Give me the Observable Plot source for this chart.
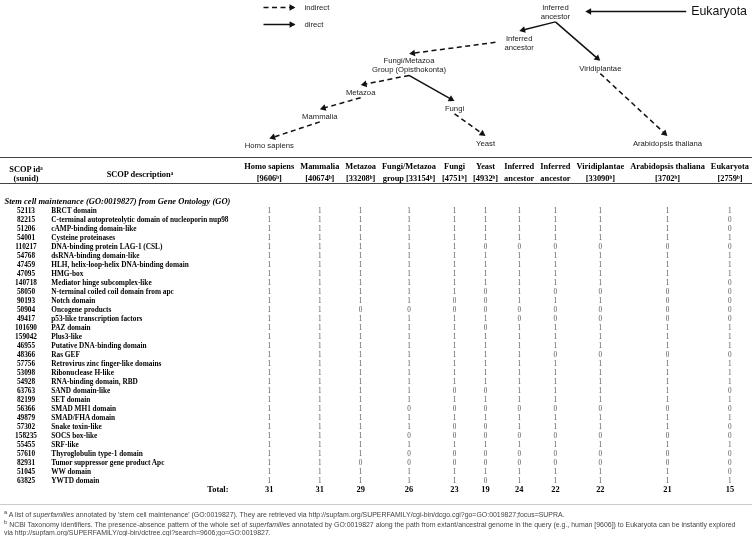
<!DOCTYPE html>
<html><head><meta charset="utf-8">
<script src="https://cdn.jsdelivr.net/npm/d3@7"></script>
<script src="https://cdn.jsdelivr.net/npm/@observablehq/plot@0.6"></script>
<style>
body{margin:0;background:#fff;}
#wrap{position:relative;width:752px;height:536px;overflow:hidden;background:#fff;filter:grayscale(1);}
#legend{position:absolute;left:256px;top:0;}
#head{border-top:1.5px solid #444;border-bottom:1px solid #444;}
#tbody{border-bottom:1px solid #ccc;}
.fn{font-family:"Liberation Sans",Arial,sans-serif;font-size:6.95px;color:#444;line-height:7.6px;padding:4px 0 0 4px;margin:0;white-space:nowrap;}
svg{display:block;}
</style></head><body>
<div id="wrap"></div>
<script>
// ---------------- DATA ----------------
const columns = ["Homo sapiens","Mammalia","Metazoa","Fungi/Metazoa group","Fungi","Yeast","Inferred ancestor A","Inferred ancestor B","Viridiplantae","Arabidopsis thaliana","Eukaryota"];
const headerLine1 = ["Homo sapiens","Mammalia","Metazoa","Fungi/Metazoa","Fungi","Yeast","Inferred","Inferred","Viridiplantae","Arabidopsis thaliana","Eukaryota"];
const headerLine2 = ["[9606ᵇ]","[40674ᵇ]","[33208ᵇ]","group [33154ᵇ]","[4751ᵇ]","[4932ᵇ]","ancestor","ancestor","[33090ᵇ]","[3702ᵇ]","[2759ᵇ]"];
const idHeader = ["SCOP idᵃ","(sunid)"];
const descHeader = "SCOP descriptionᵃ";
const sectionTitle = "Stem cell maintenance (GO:0019827) from Gene Ontology (GO)";
const sunids = [52113,82215,51206,54001,110217,54768,47459,47095,140718,58050,90193,50904,49417,101690,159042,46955,48366,57756,53098,54928,63763,82199,56366,49879,57302,158235,55455,57610,82931,51045,63825];
const descriptions = ["BRCT domain","C-terminal autoproteolytic domain of nucleoporin nup98","cAMP-binding domain-like","Cysteine proteinases","DNA-binding protein LAG-1 (CSL)","dsRNA-binding domain-like","HLH, helix-loop-helix DNA-binding domain","HMG-box","Mediator hinge subcomplex-like","N-terminal coiled coil domain from apc","Notch domain","Oncogene products","p53-like transcription factors","PAZ domain","Plus3-like","Putative DNA-binding domain","Ras GEF","Retrovirus zinc finger-like domains","Ribonuclease H-like","RNA-binding domain, RBD","SAND domain-like","SET domain","SMAD MH1 domain","SMAD/FHA domain","Snake toxin-like","SOCS box-like","SRF-like","Thyroglobulin type-1 domain","Tumor suppressor gene product Apc","WW domain","YWTD domain"];
const presence = [
[1,1,1,1,1,1,1,1,1,1,1],
[1,1,1,1,1,1,1,1,1,1,0],
[1,1,1,1,1,1,1,1,1,1,0],
[1,1,1,1,1,1,1,1,1,1,1],
[1,1,1,1,1,0,0,0,0,0,0],
[1,1,1,1,1,1,1,1,1,1,1],
[1,1,1,1,1,1,1,1,1,1,1],
[1,1,1,1,1,1,1,1,1,1,1],
[1,1,1,1,1,1,1,1,1,1,0],
[1,1,1,1,1,0,1,0,0,0,0],
[1,1,1,1,0,0,1,1,1,0,0],
[1,1,0,0,0,0,0,0,0,0,0],
[1,1,1,1,1,1,0,0,0,0,0],
[1,1,1,1,1,0,1,1,1,1,1],
[1,1,1,1,1,1,1,1,1,1,1],
[1,1,1,1,1,1,1,1,1,1,1],
[1,1,1,1,1,1,1,0,0,0,0],
[1,1,1,1,1,1,1,1,1,1,1],
[1,1,1,1,1,1,1,1,1,1,1],
[1,1,1,1,1,1,1,1,1,1,1],
[1,1,1,1,0,0,1,1,1,1,0],
[1,1,1,1,1,1,1,1,1,1,1],
[1,1,1,0,0,0,0,0,0,0,0],
[1,1,1,1,1,1,1,1,1,1,1],
[1,1,1,1,0,0,1,1,1,1,0],
[1,1,1,0,0,0,0,0,0,0,0],
[1,1,1,1,1,1,1,1,1,1,1],
[1,1,1,0,0,0,0,0,0,0,0],
[1,1,0,0,0,0,0,0,0,0,0],
[1,1,1,1,1,1,1,1,1,1,0],
[1,1,1,1,1,0,1,1,1,1,1]
];
// tree
const nodeIds = ["euk","ia1","ia2","viri","fm","meta","fungi","mamm","homo","yeast","arab"];
const nodeLabels = ["Eukaryota","Inferred\nancestor","Inferred\nancestor","Viridiplantae","Fungi/Metazoa\nGroup (Opisthokonta)","Metazoa","Fungi","Mammalia","Homo sapiens","Yeast","Arabidopsis thaliana"];
const nodeColumn = [10,7,6,8,3,2,4,1,0,5,9];
const nodeLevel = [0,0,1.15,2.1,2,3,3.6,3.9,5,4.9,4.9];
const edgeFrom = ["euk","ia1","ia1","ia2","fm","fm","meta","mamm","fungi","viri"];
const edgeTo   = ["ia1","ia2","viri","fm","meta","fungi","mamm","homo","yeast","arab"];
const edgeKind = ["direct","direct","direct","indirect","indirect","direct","indirect","indirect","indirect","indirect"];
const legendKinds = ["indirect","direct"];

// ---------------- LAYOUT ----------------
const W = 752;
const SERIF = '"Liberation Serif","Times New Roman",serif';
const SANS = '"Liberation Sans",Arial,sans-serif';
const HEAD_FS = 8.4, ROW_FS = 7.3, VAL_FS = 7.2, TREE_FS = 7.7, ROOT_FS = 12.4;
const DASH = "5,3.5";
const ctx = document.createElement("canvas").getContext("2d");
function tw(t, font){ ctx.font = font; return ctx.measureText(t).width; }
const headFont = `bold ${HEAD_FS}px ${SERIF}`;
const rowFont = `bold ${ROW_FS}px ${SERIF}`;
const n = columns.length;
const colW = columns.map((c,i)=>Math.max(tw(headerLine1[i],headFont), tw(headerLine2[i],headFont)));
const GAP = 6, RIGHT = 748.5;
const colX = [], colRight = [];
{ let r = RIGHT; for (let i=n-1;i>=0;i--){ colRight[i]=r; colX[i]=r-colW[i]/2; r -= colW[i]+GAP; } }
const idLeft = 8.6;
const idW = Math.max(...idHeader.map(t=>tw(t,headFont)));
const idX = idLeft + idW/2;
const descLeft = idLeft + idW + 8.3;
const descRight = descLeft + Math.max(...descriptions.map(t=>tw(t,rowFont)));

const xScale = {domain:[0,W], range:[0,W], axis:null};
const wrap = document.getElementById("wrap");

// ---------------- TREE ----------------
const yDom = [0,5], yRng = [11,145];
const ys = d3.scaleLinear(yDom, yRng);
const treeFont = `${TREE_FS}px ${SANS}`;
const nodes = {};
nodeIds.forEach((id,i)=>{
  const lines = nodeLabels[i].split("\n");
  const root = i===0;
  const w = Math.max(...lines.map(l=>tw(l, root ? `${ROOT_FS}px ${SANS}` : treeFont)));
  const x = root ? colRight[nodeColumn[i]] - 2 : colX[nodeColumn[i]];
  nodes[id] = {id, label:nodeLabels[i], x, level:nodeLevel[i], w,
    left: root ? x - w : x - w/2, right: root ? x : x + w/2,
    h: (root ? ROOT_FS*0.5 : TREE_FS*0.5) + (lines.length-1)*TREE_FS*1.17/2, root};
});
const edges = edgeFrom.map((f,i)=>{
  const a = nodes[f], b = nodes[edgeTo[i]];
  const ay = ys(a.level), by = ys(b.level);
  let s, t;
  if (a.level === b.level) { s=[a.left-5, ay]; t=[b.right+15, by]; }
  else if (Math.abs(b.x-a.x) > 3*(by-ay)) { s=[a.left-9, ay]; t=[b.x, by-b.h-3]; }
  else { s=[a.x, ay+a.h+2]; t=[b.x, by-b.h-3]; }
  const dx=t[0]-s[0], dy=t[1]-s[1], L=Math.hypot(dx,dy), ux=dx/L, uy=dy/L;
  return {kind:edgeKind[i], x1:s[0], y1:ys.invert(s[1]), x2:t[0]-5*ux, y2:ys.invert(t[1]-5*uy),
    cx:t[0]-4*ux, cy:ys.invert(t[1]-4*uy), angle: Math.atan2(uy,ux)*180/Math.PI+90};
});
const nodeList = Object.values(nodes);
const tree = Plot.plot({
  width:W, height:157, margin:0, x:xScale, y:{domain:yDom, range:yRng, axis:null},
  marks:[
    Plot.link(edges.filter(e=>e.kind==="indirect"), {x1:"x1",y1:"y1",x2:"x2",y2:"y2", stroke:"#111", strokeWidth:1.5, strokeDasharray:DASH}),
    Plot.link(edges.filter(e=>e.kind==="direct"), {x1:"x1",y1:"y1",x2:"x2",y2:"y2", stroke:"#111", strokeWidth:1.5}),
    Plot.dot(edges, {x:"cx", y:"cy", symbol:"triangle", r:2.5, rotate:"angle", fill:"#111", stroke:null}),
    Plot.text(nodeList.filter(d=>!d.root), {x:"x", y:"level", text:"label", fontFamily:SANS, fontSize:TREE_FS, lineHeight:1.17, fill:"#222"}),
    Plot.text(nodeList.filter(d=>d.root), {x:"x", y:"level", text:"label", fontFamily:SANS, fontSize:ROOT_FS, textAnchor:"end", fill:"#111"})
  ]
});
wrap.appendChild(tree);

// legend
const legend = Plot.plot({
  width:90, height:32, margin:0,
  x:{domain:[0,1], range:[7,38], axis:null},
  y:{type:"point", domain:legendKinds, range:[7,24], padding:0, axis:null},
  marks:[
    Plot.link(legendKinds.filter(k=>k==="indirect"), {x1:()=>0, x2:()=>1, y1:d=>d, y2:d=>d, stroke:"#111", strokeWidth:1.5, strokeDasharray:DASH}),
    Plot.link(legendKinds.filter(k=>k==="direct"), {x1:()=>0, x2:()=>1, y1:d=>d, y2:d=>d, stroke:"#111", strokeWidth:1.5}),
    Plot.dot(legendKinds, {x:()=>1, y:d=>d, symbol:"triangle", r:2.5, rotate:90, dx:-3, fill:"#111", stroke:null}),
    Plot.text(legendKinds, {x:()=>1, y:d=>d, text:d=>d, dx:10, textAnchor:"start", fontFamily:SANS, fontSize:TREE_FS, fill:"#222"})
  ]
});
const lg = document.createElement("div"); lg.id="legend"; lg.appendChild(legend); wrap.appendChild(lg);

// ---------------- HEADER ----------------
const headerCells = [];
columns.forEach((c,i)=>{ headerCells.push({x:colX[i], line:1, text:headerLine1[i]}); headerCells.push({x:colX[i], line:2, text:headerLine2[i]}); });
headerCells.push({x:idX, line:1.25, text:idHeader[0]}, {x:idX, line:2, text:idHeader[1]});
headerCells.push({x:(descLeft+descRight)/2, line:1.65, text:descHeader});
const head = Plot.plot({
  width:W, height:25, margin:0, x:xScale, y:{domain:[1,2], range:[7.5,19.5], axis:null},
  marks:[ Plot.text(headerCells, {x:"x", y:"line", text:"text", fontFamily:SERIF, fontWeight:"bold", fontSize:HEAD_FS, fill:"#000"}) ]
});
const hd = document.createElement("div"); hd.id="head"; hd.appendChild(head); wrap.appendChild(hd);

// ---------------- BODY ----------------
const rowKeys = ["section", ...sunids.map(String), "total"];
const rows = sunids.map((id,i)=>({key:String(id), id:String(id), desc:descriptions[i]}));
const cells = [];
sunids.forEach((id,i)=>presence[i].forEach((v,j)=>cells.push({key:String(id), x:colX[j], v:String(v)})));
const totals = columns.map((c,j)=>({x:colX[j], t:String(d3.sum(presence, r=>r[j]))}));
const body = Plot.plot({
  width:W, height:320, margin:0, x:xScale, y:{type:"point", domain:rowKeys, range:[7,314.5], padding:0, axis:null},
  marks:[
    Plot.text([sectionTitle], {frameAnchor:"left", y:()=>"section", text:d=>d, dx:4, textAnchor:"start", fontFamily:SERIF, fontWeight:"bold", fontStyle:"italic", fontSize:8.5, fill:"#000"}),
    Plot.text(rows, {x:()=>idX, y:"key", text:"id", fontFamily:SERIF, fontWeight:"bold", fontSize:ROW_FS, fill:"#000"}),
    Plot.text(rows, {x:()=>descLeft, y:"key", text:"desc", textAnchor:"start", fontFamily:SERIF, fontWeight:"bold", fontSize:ROW_FS, fill:"#000"}),
    Plot.text(cells, {x:"x", y:"key", text:"v", fontFamily:SERIF, fontSize:VAL_FS, fill:"#555"}),
    Plot.text(["Total:"], {x:()=>descRight, y:()=>"total", text:d=>d, textAnchor:"end", fontFamily:SERIF, fontWeight:"bold", fontSize:HEAD_FS, fill:"#000"}),
    Plot.text(totals, {x:"x", y:()=>"total", text:"t", fontFamily:SERIF, fontWeight:"bold", fontSize:HEAD_FS, fill:"#000"})
  ]
});
const bd = document.createElement("div"); bd.id="tbody"; bd.appendChild(body); wrap.appendChild(bd);

// ---------------- FOOTNOTES ----------------
const fn = document.createElement("div");
fn.className = "fn";
fn.innerHTML = "<sup>a</sup> A list of <i>superfamilies</i> annotated by 'stem cell maintenance' (GO:0019827). They are retrieved via http://supfam.org/SUPERFAMILY/cgi-bin/dcgo.cgi?go=GO:0019827;focus=SUPRA.<br>" +
 "<sup>b</sup> NCBI Taxonomy identifiers. The presence-absence pattern of the whole set of <i>superfamilies</i> annotated by GO:0019827 along the path from extant/ancestral genome in the query (e.g., human [9606]) to Eukaryota can be instantly explored<br>" +
 "via http://supfam.org/SUPERFAMILY/cgi-bin/dctree.cgi?search=9606;go=GO:0019827.";
wrap.appendChild(fn);
</script>
</body></html>
